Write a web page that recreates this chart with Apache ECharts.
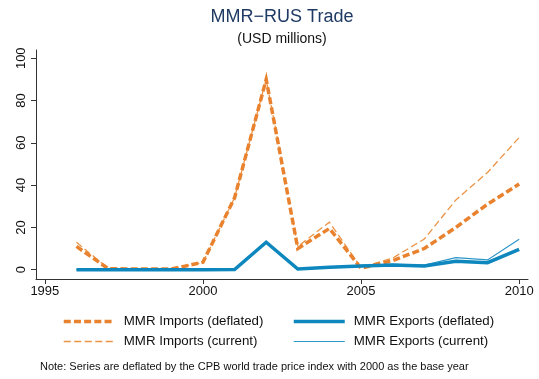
<!DOCTYPE html>
<html>
<head>
<meta charset="utf-8">
<script src="https://cdn.jsdelivr.net/npm/echarts@6/dist/echarts.min.js"></script>
<style>
  html, body { margin: 0; padding: 0; background: #fff; }
  #chart { width: 539px; height: 379px; }
</style>
</head>
<body>
<div id="chart"></div>
<script>
// Myanmar–Russia trade, USD millions
var years = [1996, 1997, 1998, 1999, 2000, 2001, 2002, 2003, 2004, 2005, 2006, 2007, 2008, 2009, 2010];
var importsDeflated = [11, 0.5, 0.3, 0.3, 3.5, 34, 90, 10, 19.5, 0.7, 4.3, 10, 20, 31, 40.5];
var importsCurrent  = [13, 0.6, 0.4, 0.3, 3.5, 34, 90, 11, 22.5, 1, 5.5, 14.5, 33, 46, 62.5];
var exportsDeflated = [0, 0, 0, 0, 0, 0.1, 13, 0.3, 1.1, 1.8, 2.2, 1.7, 4, 3.3, 9.6];
var exportsCurrent  = [0, 0, 0, 0, 0, 0.1, 12.8, 0.3, 1.2, 2.1, 2.5, 2.2, 5.7, 4.6, 14.4];

var xTicks = [1995, 2000, 2005, 2010];
var yTicks = [0, 20, 40, 60, 80, 100];

var seriesNames = ['MMR Imports (deflated)', 'MMR Imports (current)', 'MMR Exports (deflated)', 'MMR Exports (current)'];

var ORANGE = '#E8822E';
var ORANGE_LIGHT = '#EC9446';
var BLUE = '#0D87BD';
var BLUE_LIGHT = '#2A97C8';
var FONT = 'Liberation Sans, Arial, Helvetica, sans-serif';

function pairs(vals) {
  return years.map(function (y, i) { return [y, vals[i]]; });
}

// legend keys show only the line, in the series' own width and dash
function legendBlock(names, left) {
  return {
    data: names, orient: 'vertical', left: left, top: 315,
    itemWidth: 51, itemHeight: 14, itemGap: 7, padding: 0,
    itemStyle: { opacity: 0 },
    lineStyle: { width: 'inherit', type: 'inherit', cap: 'butt' },
    textStyle: { fontSize: 13.3, color: '#111', fontFamily: FONT, padding: [0, 0, 0, 4] }
  };
}

var chart = echarts.init(document.getElementById('chart'), null, { renderer: 'canvas' });

chart.setOption({
  animation: false,
  backgroundColor: '#fff',
  textStyle: { fontFamily: FONT },
  title: [
    { text: 'MMR\u2212RUS Trade', left: 282, textAlign: 'center', top: 8, padding: 0,
      textStyle: { fontSize: 18, fontWeight: 'normal', color: '#1F3A63', fontFamily: FONT } },
    { text: '(USD millions)', left: 282, textAlign: 'center', top: 32, padding: 0,
      textStyle: { fontSize: 14, fontWeight: 'normal', color: '#111', fontFamily: FONT } },
    { text: 'Note: Series are deflated by the CPB world trade price index with 2000 as the base year',
      left: 40, top: 361, padding: 0,
      textStyle: { fontSize: 11, fontWeight: 'normal', color: '#111', fontFamily: FONT } }
  ],
  legend: [
    legendBlock([seriesNames[0], seriesNames[1]], 62),
    legendBlock([seriesNames[2], seriesNames[3]], 292)
  ],
  grid: { left: 36, right: 11, top: 50, bottom: 100, containLabel: false },
  xAxis: {
    type: 'value', min: 1994.72, max: 2010.28,
    axisLine: { show: true, onZero: false, lineStyle: { color: '#333', width: 1 } },
    axisTick: { show: true, length: 5, customValues: xTicks, lineStyle: { color: '#333' } },
    axisLabel: { customValues: xTicks, margin: 6, fontSize: 13, color: '#111', fontFamily: FONT,
      formatter: function (v) { return String(v); } },
    splitLine: { show: false }
  },
  yAxis: {
    type: 'value', min: -4.4, max: 103.9,
    axisLine: { show: true, onZero: false, lineStyle: { color: '#333', width: 1 } },
    axisTick: { show: true, length: 5, customValues: yTicks, lineStyle: { color: '#333' } },
    axisLabel: { customValues: yTicks, rotate: 90, margin: 8, fontSize: 13, color: '#111', fontFamily: FONT,
      formatter: function (v) { return String(v); } },
    splitLine: { show: false }
  },
  series: [
    { name: seriesNames[0], type: 'line', data: pairs(importsDeflated), symbol: 'none', z: 4,
      itemStyle: { color: ORANGE },
      lineStyle: { color: ORANGE, width: 3.5, type: [7, 3.2], cap: 'butt', join: 'miter' } },
    { name: seriesNames[1], type: 'line', data: pairs(importsCurrent), symbol: 'none', z: 3,
      itemStyle: { color: ORANGE_LIGHT },
      lineStyle: { color: ORANGE_LIGHT, width: 1.3, type: [7, 3.5], cap: 'butt', join: 'miter' } },
    { name: seriesNames[2], type: 'line', data: pairs(exportsDeflated), symbol: 'none', z: 5,
      itemStyle: { color: BLUE },
      lineStyle: { color: BLUE, width: 3.5, cap: 'butt', join: 'miter' } },
    { name: seriesNames[3], type: 'line', data: pairs(exportsCurrent), symbol: 'none', z: 2,
      itemStyle: { color: BLUE_LIGHT },
      lineStyle: { color: BLUE_LIGHT, width: 1.2, cap: 'butt', join: 'miter' } }
  ]
});
</script>
</body>
</html>
